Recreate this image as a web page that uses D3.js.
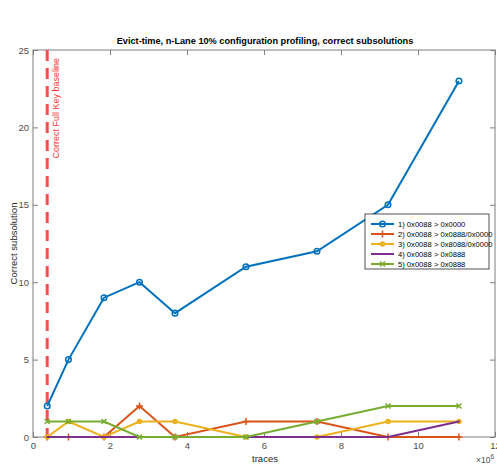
<!DOCTYPE html>
<html>
<head>
<meta charset="utf-8">
<script src="https://cdn.jsdelivr.net/npm/d3@7"></script>
<style>
  html, body { margin: 0; padding: 0; background: #fff; }
  svg { display: block; font-family: "Liberation Sans", Arial, sans-serif; }
</style>
</head>
<body>
<svg id="chart" width="497" height="466"></svg>
<script>
// Trace counts (x) for each profiling run
const traces = [368800, 922000, 1844000, 2766000, 3688000, 5532000, 7376000, 9220000, 11064000];

// Correct subsolutions per configuration
const seriesNames = [
  "1) 0x0088 > 0x0000",
  "2) 0x0088 > 0x0888/0x0000",
  "3) 0x0088 > 0x8088/0x0000",
  "4) 0x0088 > 0x0888",
  "5) 0x0088 > 0x0888"
];
const s1 = [2, 5, 9, 10, 8, 11, 12, 15, 23];
const s2 = [0, 0, 0, 2, 0, 1, 1, 0, 0];
const s3 = [0, 1, 0, 1, 1, 0, 0, 1, 1];
const s4 = [0, 0, 0, 0, 0, 0, 0, 0, 1];
const s5 = [1, 1, 1, 0, 0, 0, 1, 2, 2];

const seriesColors = ["#0072BD", "#D95319", "#EDB120", "#7E2F8E", "#77AC30"];
const seriesMarkers = ["circle", "plus", "dot", "point", "cross"];

const baselineX = 368800;
const baselineLabel = "Correct Full Key baseline";

const xTicks = [0, 2, 4, 6, 8, 10, 12];
const yTicks = [0, 5, 10, 15, 20, 25];

const svg = d3.select("#chart");
const plotL = 33, plotR = 495, plotT = 50, plotB = 437;

const x = d3.scaleLinear().domain([0, 12e6]).range([plotL, plotR]);
const y = d3.scaleLinear().domain([0, 25]).range([plotB, plotT]);

const axisColor = "#262626";
const boxColor = "#7f7f7f";

// Axes box
svg.append("rect")
  .attr("x", plotL).attr("y", plotT)
  .attr("width", plotR - plotL).attr("height", plotB - plotT)
  .attr("fill", "none").attr("stroke", boxColor).attr("stroke-width", 1);

// Bottom & left axes with inward ticks
const xAxis = d3.axisBottom(x).tickValues(xTicks.map(d => d * 1e6))
  .tickFormat(d => d / 1e6).tickSizeInner(-5).tickSizeOuter(0).tickPadding(5);
const gx = svg.append("g").attr("transform", `translate(0,${plotB})`).call(xAxis);
const yAxis = d3.axisLeft(y).tickValues(yTicks).tickSizeInner(-5).tickSizeOuter(0).tickPadding(4);
const gy = svg.append("g").attr("transform", `translate(${plotL},0)`).call(yAxis);

// Top & right mirrored ticks
const gxt = svg.append("g").attr("transform", `translate(0,${plotT})`)
  .call(d3.axisTop(x).tickValues(xTicks.map(d => d * 1e6)).tickFormat("").tickSizeInner(-5).tickSizeOuter(0));
const gyr = svg.append("g").attr("transform", `translate(${plotR},0)`)
  .call(d3.axisRight(y).tickValues(yTicks).tickFormat("").tickSizeInner(-5).tickSizeOuter(0));

[gx, gy, gxt, gyr].forEach(g => {
  g.select(".domain").remove();
  g.selectAll(".tick line").attr("stroke", boxColor);
  g.selectAll(".tick text").attr("fill", "#4d4d4d").attr("font-size", 9.5)
    .attr("font-family", "Liberation Sans, Arial, sans-serif");
});

// Title and axis labels
svg.append("text").attr("x", 265).attr("y", 44)
  .attr("text-anchor", "middle").attr("font-size", 9.2).attr("font-weight", "bold")
  .attr("fill", "#000").text("Evict-time, n-Lane 10% configuration profiling, correct subsolutions");

svg.append("text").attr("x", 265).attr("y", 462)
  .attr("text-anchor", "middle").attr("font-size", 9.5).attr("fill", axisColor).text("traces");

svg.append("text").attr("transform", `translate(17,${(plotT + plotB) / 2}) rotate(-90)`)
  .attr("text-anchor", "middle").attr("font-size", 9.5).attr("fill", axisColor).text("Correct subsolution");

const exp = svg.append("text").attr("x", 476).attr("y", 463).attr("font-size", 8.5).attr("fill", "#4d4d4d");
exp.append("tspan").text("\u00d710");
exp.append("tspan").attr("dy", -4).attr("font-size", 6.5).text("6");

// Baseline marker
svg.append("line")
  .attr("x1", x(baselineX)).attr("x2", x(baselineX))
  .attr("y1", plotT).attr("y2", plotB)
  .attr("stroke", "#ff4d4d").attr("stroke-width", 3)
  .attr("stroke-dasharray", "11,7");
svg.append("text")
  .attr("transform", `translate(${x(baselineX) + 12},${plotT + 8}) rotate(-90)`)
  .attr("text-anchor", "end")
  .attr("font-size", 9).attr("fill", "#ff3333").text(baselineLabel);

// Series
const allSeries = [s1, s2, s3, s4, s5];
const line = d3.line().x((d, i) => x(traces[i])).y(d => y(d));

function drawMarker(g, type, cx, cy, color) {
  if (type === "circle") {
    g.append("circle").attr("cx", cx).attr("cy", cy).attr("r", 2.8)
      .attr("fill", "none").attr("stroke", color).attr("stroke-width", 1.5);
  } else if (type === "plus") {
    g.append("path").attr("d", `M${cx - 3.5},${cy}H${cx + 3.5}M${cx},${cy - 3.5}V${cy + 3.5}`)
      .attr("stroke", color).attr("stroke-width", 1.5);
  } else if (type === "dot") {
    g.append("circle").attr("cx", cx).attr("cy", cy).attr("r", 2.8).attr("fill", color);
  } else if (type === "point") {
    g.append("circle").attr("cx", cx).attr("cy", cy).attr("r", 1).attr("fill", color);
  } else if (type === "cross") {
    g.append("path").attr("d", `M${cx - 2.5},${cy - 2.5}L${cx + 2.5},${cy + 2.5}M${cx - 2.5},${cy + 2.5}L${cx + 2.5},${cy - 2.5}`)
      .attr("stroke", color).attr("stroke-width", 1.5);
  }
}

// draw order: later series on top
allSeries.forEach((vals, k) => {
  const g = svg.append("g");
  g.append("path").datum(vals).attr("d", line)
    .attr("fill", "none").attr("stroke", seriesColors[k]).attr("stroke-width", 2);
  vals.forEach((v, i) => drawMarker(g, seriesMarkers[k], x(traces[i]), y(v), seriesColors[k]));
});

// Legend
const lg = svg.append("g");
const lx = 365, ly = 214, lw = 124, rowH = 10;
lg.append("rect").attr("x", lx).attr("y", ly).attr("width", lw).attr("height", 55)
  .attr("fill", "#fff").attr("stroke", "#262626").attr("stroke-width", 0.8);
seriesNames.forEach((name, k) => {
  const cy = ly + 10 + k * rowH;
  lg.append("line").attr("x1", lx + 6).attr("x2", lx + 29).attr("y1", cy).attr("y2", cy)
    .attr("stroke", seriesColors[k]).attr("stroke-width", 2);
  drawMarker(lg, seriesMarkers[k], lx + 17.5, cy, seriesColors[k]);
  lg.append("text").attr("x", lx + 33).attr("y", cy + 3).attr("font-size", 7.6)
    .attr("fill", "#000").text(name);
});
</script>
</body>
</html>
